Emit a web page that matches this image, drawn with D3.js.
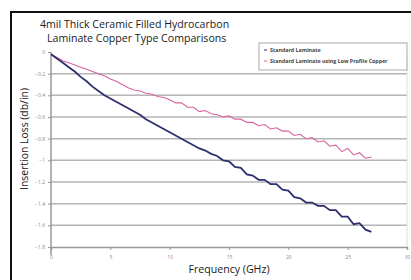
<!DOCTYPE html>
<html>
<head>
<meta charset="utf-8">
<script src="https://cdn.jsdelivr.net/npm/d3@7"></script>
<style>
  body { margin: 0; background: #fff; }
  svg { display: block; font-family: "Open Sans", sans-serif; }
</style>
</head>
<body>
<div id="chart"></div>
<script>
// Frequency points (GHz)
const freqs = [0, 0.5, 1, 1.5, 2, 2.5, 3, 3.5, 4, 4.5, 5, 5.5, 6, 6.5, 7, 7.5, 8, 8.5, 9, 9.5,
  10, 10.5, 11, 11.5, 12, 12.5, 13, 13.5, 14, 14.5, 15, 15.5, 16, 16.5, 17, 17.5, 18, 18.5, 19, 19.5,
  20, 20.5, 21, 21.5, 22, 22.5, 23, 23.5, 24, 24.5, 25, 25.5, 26, 26.5, 27];

// Standard laminate (dark blue)
const standardLoss = [-0.02, -0.06, -0.10, -0.14, -0.18, -0.23, -0.27, -0.32, -0.36, -0.40,
  -0.43, -0.46, -0.49, -0.52, -0.55, -0.58, -0.62, -0.65, -0.68, -0.71,
  -0.74, -0.77, -0.80, -0.83, -0.86, -0.89, -0.91, -0.94, -0.96, -1.00,
  -1.01, -1.06, -1.07, -1.13, -1.14, -1.18, -1.18, -1.22, -1.22, -1.27,
  -1.28, -1.34, -1.35, -1.39, -1.39, -1.42, -1.42, -1.46, -1.46, -1.52,
  -1.52, -1.59, -1.58, -1.64, -1.66];

// Standard laminate using low profile copper (pink)
const lowProfileLoss = [-0.02, -0.05, -0.08, -0.10, -0.12, -0.14, -0.16, -0.18, -0.20, -0.22,
  -0.25, -0.27, -0.30, -0.33, -0.35, -0.36, -0.38, -0.39, -0.41, -0.42,
  -0.44, -0.47, -0.47, -0.51, -0.51, -0.55, -0.54, -0.57, -0.58, -0.60,
  -0.59, -0.62, -0.62, -0.65, -0.65, -0.68, -0.67, -0.71, -0.70, -0.73,
  -0.73, -0.77, -0.76, -0.80, -0.79, -0.83, -0.82, -0.87, -0.86, -0.92,
  -0.89, -0.95, -0.93, -0.98, -0.97];

const xTicks = [0, 5, 10, 15, 20, 25, 30];
const yTicks = [0, -0.2, -0.4, -0.6, -0.8, -1, -1.2, -1.4, -1.6, -1.8];
const seriesNames = ["Standard Laminate", "Standard Laminate using Low Profile Copper"];
const seriesColors = ["#2d2f6e", "#d8629c"];

const width = 411, height = 280;
const plotLeft = 51, plotRight = 407, plotTop = 52, plotBottom = 247;

const svg = d3.select("#chart").append("svg")
  .attr("width", width).attr("height", height);

// outer frame (cut off at right / bottom like the source)
svg.append("rect")
  .attr("x", 11).attr("y", 12).attr("width", 420).attr("height", 290)
  .attr("fill", "none").attr("stroke", "#111").attr("stroke-width", 2);

const x = d3.scaleLinear().domain([0, 30]).range([plotLeft, plotRight]);
const y = d3.scaleLinear().domain([0, -1.8]).range([plotTop, plotBottom]);

// gridlines
svg.append("g").selectAll("line")
  .data(yTicks.slice(1, -1))
  .enter().append("line")
  .attr("x1", plotLeft).attr("x2", plotRight)
  .attr("y1", d => y(d)).attr("y2", d => y(d))
  .attr("stroke", "#b4b4b4").attr("stroke-width", 1.5);

// right border of plot area
svg.append("line")
  .attr("x1", plotRight).attr("x2", plotRight).attr("y1", plotTop).attr("y2", plotBottom)
  .attr("stroke", "#ddd").attr("stroke-width", 1);

// axes
const xAxis = d3.axisBottom(x).tickValues(xTicks).tickSize(3).tickPadding(5);
const yAxis = d3.axisLeft(y).tickValues(yTicks).tickSize(3).tickPadding(3)
  .tickFormat(d3.format("~g"));

const gx = svg.append("g").attr("transform", `translate(0,${plotBottom})`).call(xAxis);
const gy = svg.append("g").attr("transform", `translate(${plotLeft},0)`).call(yAxis);
[gx, gy].forEach(g => {
  g.select(".domain").attr("stroke", "#999").attr("stroke-width", 1.5);
  g.selectAll(".tick line").attr("stroke", "#999");
  g.selectAll(".tick text").attr("fill", "#888").style("font-size", "5px")
    .style("font-family", "'Open Sans', sans-serif");
});
gy.select(".domain").attr("d", `M0,${plotTop}V${plotBottom + 8}`);

// lines
const line = d3.line().x((d, i) => x(freqs[i])).y(d => y(d));
svg.append("path").datum(lowProfileLoss)
  .attr("d", line).attr("fill", "none")
  .attr("stroke", seriesColors[1]).attr("stroke-width", 1.1);
svg.append("path").datum(standardLoss)
  .attr("d", line).attr("fill", "none")
  .attr("stroke", seriesColors[0]).attr("stroke-width", 1.8);

// legend
const legend = svg.append("g").attr("transform", "translate(259,43)");
legend.append("rect")
  .attr("width", 148).attr("height", 27)
  .attr("fill", "#fff").attr("stroke", "#aaa").attr("stroke-width", 1);
const items = legend.selectAll(".item").data(seriesNames).enter().append("g")
  .attr("transform", (d, i) => `translate(5,${7 + i * 11})`);
items.append("line").attr("x1", 0).attr("x2", 3)
  .attr("stroke", (d, i) => seriesColors[i]).attr("stroke-width", 1);
items.append("text").attr("x", 6).attr("dy", "0.35em")
  .style("font-size", "5.3px").style("font-weight", "bold").attr("fill", "#444")
  .text(d => d);

// titles
const title = svg.append("text").attr("fill", "#1a1a1a").style("font-size", "10.6px");
title.append("tspan").attr("x", 40).attr("y", 28).text("4mil Thick Ceramic Filled Hydrocarbon");
title.append("tspan").attr("x", 47).attr("y", 42).text("Laminate Copper Type Comparisons");

svg.append("text")
  .attr("transform", "translate(28,139) rotate(-90)")
  .attr("text-anchor", "middle").attr("fill", "#1a1a1a")
  .style("font-size", "10.4px")
  .text("Insertion Loss (db/in)");

svg.append("text")
  .attr("x", 229).attr("y", 273)
  .attr("text-anchor", "middle").attr("fill", "#1a1a1a")
  .style("font-size", "10.6px")
  .text("Frequency (GHz)");
</script>
</body>
</html>
